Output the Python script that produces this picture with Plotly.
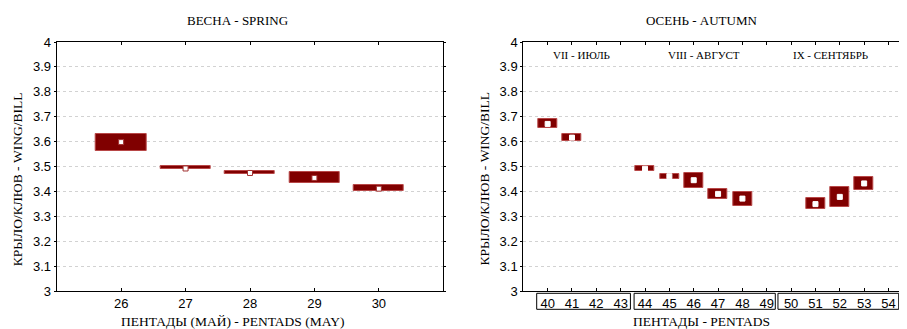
import plotly.graph_objects as go

# ---- data ----
spring_pentads = [26, 27, 28, 29, 30]
spring_low = [3.564, 3.489, 3.470, 3.435, 3.400]
spring_high = [3.632, 3.503, 3.481, 3.477, 3.426]
spring_mean = [3.598, 3.492, 3.474, 3.454, 3.411]

autumn_pentads = [40, 41, 44, 45, 46, 47, 48, 51, 52, 53]
autumn_low = [3.653, 3.601, 3.482, 3.451, 3.412, 3.368, 3.343, 3.328, 3.337, 3.407]
autumn_high = [3.690, 3.629, 3.501, 3.471, 3.474, 3.411, 3.399, 3.373, 3.418, 3.457]
autumn_mean = [3.671, 3.616, 3.491, 3.461, 3.445, 3.390, 3.371, 3.349, 3.378, 3.432]

spring_ticks = [26, 27, 28, 29, 30]
autumn_ticks = list(range(40, 55))
y_ticks = [3.0, 3.1, 3.2, 3.3, 3.4, 3.5, 3.6, 3.7, 3.8, 3.9, 4.0]
y_ticktext = ["3", "3.1", "3.2", "3.3", "3.4", "3.5", "3.6", "3.7", "3.8", "3.9", "4"]

month_labels = ["VII - ИЮЛЬ", "VIII - АВГУСТ", "IX - СЕНТЯБРЬ"]
month_pos = [41.38, 46.44, 51.61]
month_groups = [(39.55, 43.40), (43.55, 49.35), (49.46, 54.42)]

BOX = "#800000"
EDGE = "#b84848"
OFF = 8  # default page body margin
W, H = 907 - OFF, 329 - OFF
SERIF = "Liberation Serif"
SANS = "Liberation Sans"


def px(x):
    return (x - OFF) / W


def py(y):
    return (291 - y) / 249


fig = go.Figure()

fig.add_trace(go.Bar(
    x=spring_pentads,
    base=spring_low,
    y=[h - l for h, l in zip(spring_high, spring_low)],
    width=0.78,
    marker=dict(color=BOX, line=dict(color=EDGE, width=1)),
    xaxis="x", yaxis="y", showlegend=False, hoverinfo="skip",
))
fig.add_trace(go.Scatter(
    x=spring_pentads, y=spring_mean, mode="markers",
    marker=dict(symbol="square", size=5, color="white", line=dict(color="#a03030", width=1)),
    xaxis="x", yaxis="y", showlegend=False,
))

fig.add_trace(go.Bar(
    x=autumn_pentads,
    base=autumn_low,
    y=[h - l for h, l in zip(autumn_high, autumn_low)],
    width=0.78,
    marker=dict(color=BOX, line=dict(color=EDGE, width=1)),
    xaxis="x2", yaxis="y2", showlegend=False, hoverinfo="skip",
))
fig.add_trace(go.Scatter(
    x=autumn_pentads, y=autumn_mean, mode="markers",
    marker=dict(symbol="square", size=5, color="white", line=dict(color="white", width=1)),
    xaxis="x2", yaxis="y2", showlegend=False,
))

tickfont = dict(family=SANS, size=13, color="black")
xcommon = dict(showline=True, linecolor="black", linewidth=1, showgrid=False, zeroline=False,
               ticks="inside", ticklen=3, tickcolor="black", tickfont=tickfont, mirror="ticks")
ycommon = dict(showline=True, linecolor="black", linewidth=1, showgrid=True, gridcolor="#d2d2d2",
               griddash="dot", gridwidth=1, zeroline=False, ticks="outside", ticklen=2,
               tickcolor="black", tickfont=tickfont, range=[3, 4],
               tickvals=y_ticks, ticktext=y_ticktext)

fig.update_layout(
    width=W, height=H,
    margin=dict(l=0, r=0, t=42 - OFF, b=329 - 291),
    paper_bgcolor="white", plot_bgcolor="white",
    bargap=0,
    xaxis=dict(domain=[px(56.7), px(443.3)], range=[25, 31], tickvals=spring_ticks, **xcommon),
    yaxis=dict(anchor="x", mirror="ticks", **ycommon),
    xaxis2=dict(domain=[px(523.3), 1.0], range=[39, 54.76], tickvals=autumn_ticks, anchor="y2", **xcommon),
    yaxis2=dict(anchor="x2", mirror=False, **ycommon),
)

ann = []


def add(text, x, y, size, angle=0, xref="paper", yref="paper"):
    ann.append(dict(text=text, x=x, y=y, xref=xref, yref=yref, showarrow=False,
                    textangle=angle, xanchor="center", yanchor="middle",
                    font=dict(family=SERIF, size=size, color="black")))


add("ВЕСНА - SPRING", px(237), py(20.7), 13)
add("ОСЕНЬ - AUTUMN", px(702), py(20), 13)
add("КРЫЛО/КЛЮВ - WING/BILL", px(17.3), py(179), 13.5, angle=-90)
add("КРЫЛО/КЛЮВ - WING/BILL", px(484.3), py(178.3), 13.5, angle=-90)
add("ПЕНТАДЫ (МАЙ) - PENTADS (MAY)", px(232), py(321), 13.5)
add("ПЕНТАДЫ - PENTADS", px(701.7), py(321), 13.5)
for lab, pos in zip(month_labels, month_pos):
    add(lab, pos, py(55), 11, xref="x2")
fig.update_layout(annotations=ann)

shapes = []
for a, b in month_groups:
    shapes.append(dict(type="rect", xref="x2", yref="paper", x0=a, x1=b,
                       y0=py(293.3), y1=py(309.3),
                       line=dict(color="black", width=1), fillcolor="rgba(0,0,0,0)"))
fig.update_layout(shapes=shapes)

fig.write_html("out.html")
